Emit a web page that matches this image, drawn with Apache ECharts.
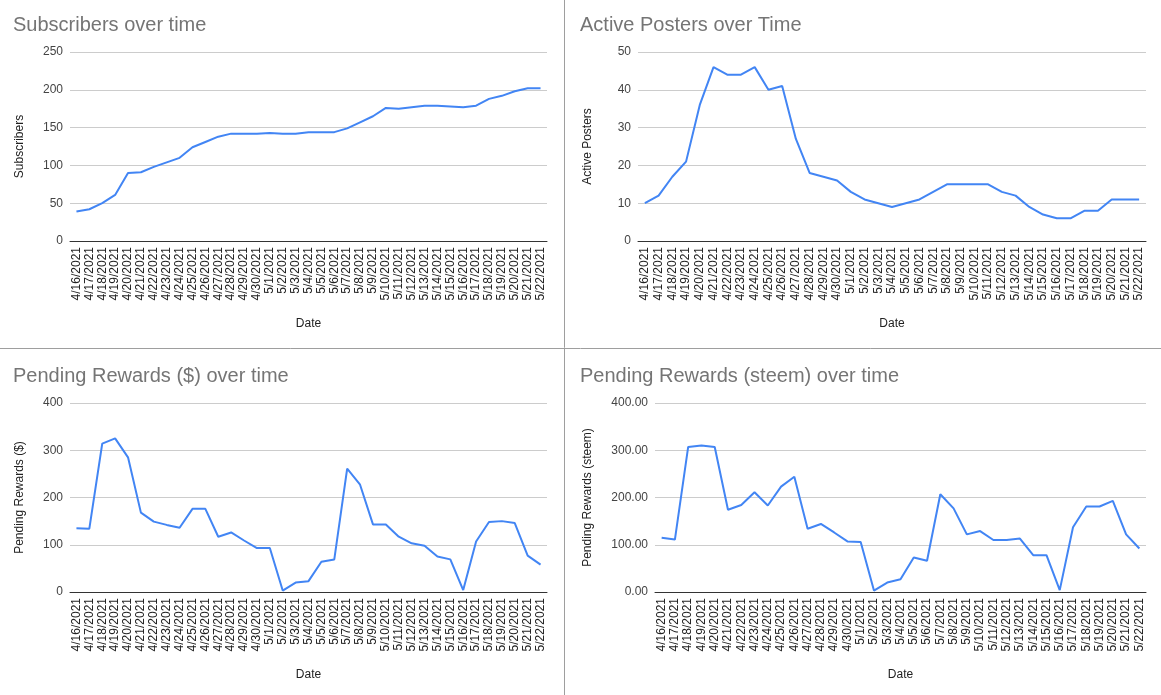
<!DOCTYPE html>
<html>
<head>
<meta charset="utf-8">
<script src="https://cdn.jsdelivr.net/npm/echarts@6/dist/echarts.min.js"></script>
<style>
  html, body { margin: 0; padding: 0; background: #fff; }
  #main { width: 1161px; height: 695px; }
</style>
</head>
<body>
<div id="main"></div>
<script>
const dates = ['4/16/2021', '4/17/2021', '4/18/2021', '4/19/2021', '4/20/2021', '4/21/2021', '4/22/2021', '4/23/2021',
  '4/24/2021', '4/25/2021', '4/26/2021', '4/27/2021', '4/28/2021', '4/29/2021', '4/30/2021', '5/1/2021', '5/2/2021',
  '5/3/2021', '5/4/2021', '5/5/2021', '5/6/2021', '5/7/2021', '5/8/2021', '5/9/2021', '5/10/2021', '5/11/2021',
  '5/12/2021', '5/13/2021', '5/14/2021', '5/15/2021', '5/16/2021', '5/17/2021', '5/18/2021', '5/19/2021',
  '5/20/2021', '5/21/2021', '5/22/2021'];

const subscribers = [39, 42, 50, 61, 90, 91, 98, 104, 110, 124, 131, 138, 142, 142, 142, 143, 142, 142, 144, 144,
  144, 149, 157, 165, 176, 175, 177, 179, 179, 178, 177, 179, 188, 192, 198, 202, 202];

const activePosters = [10, 12, 17, 21, 36, 46, 44, 44, 46, 40, 41, 27, 18, 17, 16, 13, 11, 10, 9, 10,
  11, 13, 15, 15, 15, 15, 13, 12, 9, 7, 6, 6, 8, 8, 11, 11, 11];

const rewardsUsd = [135, 134, 314, 325, 285, 168, 149, 142, 136, 176, 176, 117, 126, 109, 93, 93, 3, 20, 23, 64,
  69, 261, 227, 143, 143, 117, 103, 98, 75, 69, 4, 107, 148, 150, 146, 77, 58];

const rewardsSteem = [115, 111, 307, 310, 307, 174, 184, 211, 183, 223, 244, 134, 144, 126, 107, 106, 3, 20, 27, 73,
  66, 207, 177, 122, 129, 110, 110, 113, 78, 78, 4, 137, 181, 181, 193, 122, 92];

const titles = ['Subscribers over time', 'Active Posters over Time', 'Pending Rewards ($) over time', 'Pending Rewards (steem) over time'];
const yNames = ['Subscribers', 'Active Posters', 'Pending Rewards ($)', 'Pending Rewards (steem)'];
const yMax = [250, 50, 400, 400];
const yStep = [50, 10, 100, 100];

const grids = [
  { left: 70, top: 52, width: 477, height: 189 },
  { left: 638, top: 52, width: 508, height: 189 },
  { left: 70, top: 403, width: 477, height: 189 },
  { left: 655, top: 403, width: 491, height: 189 }
];
const titlePos = [[13, 15], [580, 15], [13, 366], [580, 366]];
const nameGaps = [44, 44, 44, 61];
const seriesData = [subscribers, activePosters, rewardsUsd, rewardsSteem];

const font = 'Arial, "Liberation Sans", sans-serif';

var myChart = echarts.init(document.getElementById('main'));
myChart.setOption({
  animation: false,
  textStyle: { fontFamily: font },
  title: titles.map((t, i) => ({
    text: t, left: titlePos[i][0], top: titlePos[i][1], padding: 0,
    textStyle: { fontSize: 20, fontWeight: 'normal', color: '#757575', fontFamily: font }
  })),
  grid: grids,
  xAxis: grids.map((g, i) => ({
    type: 'category', gridIndex: i, data: dates, boundaryGap: true,
    name: 'Date', nameLocation: 'middle', nameGap: 77,
    nameTextStyle: { fontSize: 12, color: '#222', fontFamily: font },
    axisLine: { lineStyle: { color: '#333', width: 1 } },
    axisTick: { show: false },
    axisLabel: { rotate: 90, interval: 0, fontSize: 12, color: '#222', margin: 6, fontFamily: font }
  })),
  yAxis: grids.map((g, i) => ({
    type: 'value', gridIndex: i, min: 0, max: yMax[i], interval: yStep[i],
    name: yNames[i], nameLocation: 'middle', nameGap: nameGaps[i],
    nameTextStyle: { fontSize: 12, color: '#222', fontFamily: font },
    axisLine: { show: false }, axisTick: { show: false },
    axisLabel: {
      fontSize: 12, color: '#444', margin: 7, fontFamily: font,
      formatter: i === 3 ? (v => v.toFixed(2)) : null
    },
    splitLine: { lineStyle: { color: '#ccc', width: 1 } }
  })),
  series: seriesData.map((d, i) => ({
    type: 'line', xAxisIndex: i, yAxisIndex: i, data: d,
    showSymbol: false, symbol: 'none',
    lineStyle: { color: '#4285f4', width: 2 }
  })),
  graphic: [
    { type: 'line', shape: { x1: 564.5, y1: 0, x2: 564.5, y2: 695 }, style: { stroke: '#9e9e9e', lineWidth: 1 } },
    { type: 'line', shape: { x1: 0, y1: 348.5, x2: 1161, y2: 348.5 }, style: { stroke: '#9e9e9e', lineWidth: 1 } }
  ]
});
</script>
</body>
</html>
